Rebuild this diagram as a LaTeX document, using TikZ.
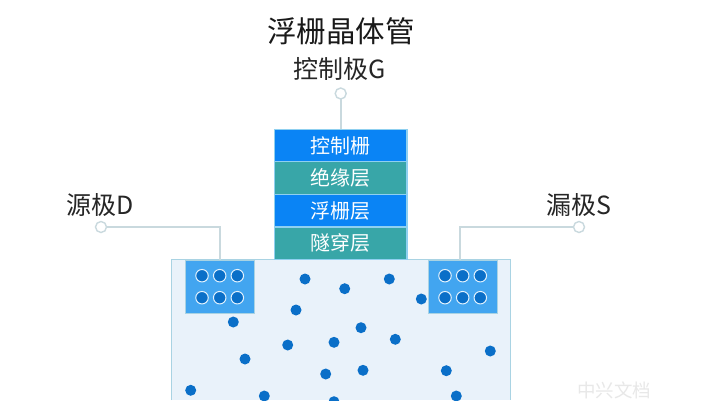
\documentclass[tikz,border=0pt]{standalone}
\usepackage{fontspec}
\setmainfont{Liberation Sans}
\newfontfamily\cjk{Noto Sans CJK SC}
\definecolor{gatecol}{HTML}{0A84F5}
\definecolor{tealcol}{HTML}{38A6A8}
\definecolor{edgecol}{HTML}{8FD0F0}
\definecolor{subfill}{HTML}{E9F2FA}
\definecolor{subedge}{HTML}{A9D3E3}
\definecolor{wellcol}{HTML}{42A5F0}
\definecolor{dotcol}{HTML}{0A6FC8}
\definecolor{leadcol}{HTML}{C9D9DE}
\tikzset{
  x=1pt,y=-1pt,
  every node/.style={font=\cjk,inner sep=0pt,outer sep=0pt},
  layerbox/.style={draw=edgecol,line width=1.3pt,minimum width=132.7pt,minimum height=32.6pt,text=white,font=\cjk\fontsize{20}{20}\selectfont},
  bluelayer/.style={layerbox,fill=gatecol},
  teallayer/.style={layerbox,fill=tealcol},
  wellbox/.style={draw=subedge,line width=1pt,fill=wellcol,minimum width=69pt,minimum height=53.5pt,anchor=north west},
  carrier/.style={circle,fill=dotcol,minimum size=11pt},
  hole/.style={circle,fill=dotcol,draw=white!85!wellcol,line width=1pt,minimum size=12.5pt},
  terminal/.style={circle,draw=leadcol,fill=white,line width=1.4pt,minimum size=11pt},
  leader/.style={draw=leadcol,line width=1.6pt},
  labeltext/.style={text=black!85,font=\cjk\fontsize{25}{25}\selectfont},
}
\begin{document}
\begin{tikzpicture}
\useasboundingbox (0,0) rectangle (719,400);
\fill[white] (0,0) rectangle (719,400);
% substrate
\path[fill=subfill] (171.7,259.7) rectangle (510.3,400);
\draw[subedge,line width=1.4pt] (171.7,400) -- (171.7,259.7) -- (510.3,259.7) -- (510.3,400);
% wells
\node[wellbox] (wl) at (185.7,260) {};
\node[wellbox] (wr) at (428.7,260) {};
\foreach \n/\x/\y in {a/202/275.7,b/219.7/275.7,c/237.3/275.7,d/202/297.7,e/219.7/297.7,f/237.3/297.7,
  g/445/275.7,h/462.7/275.7,i/480.3/275.7,j/445/297.7,k/462.7/297.7,l/480.3/297.7}
  \node[hole] (h\n) at (\x,\y) {};
% carriers
\begin{scope}
\clip (0,0) rectangle (719,400);
\foreach \x/\y [count=\i] in {305/279,344.7/288.7,389.3/279,421.3/299,296/310,233.3/322,361/327.7,395.3/339.3,334/342.3,287.7/345,490.3/351,245/359,325.7/374,363/370.3,446.3/370.7,190.7/390.3,264.3/396,334/401.7,456.3/396}
  \node[carrier] (c\i) at (\x,\y) {};
\end{scope}
% gate stack
\node[bluelayer] (l1) at (340.7,145.6) {控制栅};
\node[teallayer] (l2) at (340.7,178.1) {绝缘层};
\node[bluelayer] (l3) at (340.7,210.7) {浮栅层};
\node[teallayer] (l4) at (340.7,243.3) {隧穿层};
% terminals and leaders
\node[terminal] (tg) at (340.7,93.5) {};
\node[terminal] (ts) at (101,227) {};
\node[terminal] (td) at (579,227) {};
\draw[leader] (tg) -- (l1);
\draw[leader] (ts) -- (220,227) -- (wl.north -| 220,227);
\draw[leader] (td) -- (460,227) -- (wr.north -| 460,227);
% text
\node[text=black!90,font=\cjk\fontsize{29.5}{30}\selectfont] (title) at (341,31) {浮栅晶体管};
\node[labeltext] (lg) at (340,69) {控制极G};
\node[labeltext] (ld) at (100.5,205) {源极D};
\node[labeltext] (lr) at (579,205) {漏极S};
\node[text=black!9,font=\cjk\fontsize{18.5}{19}\selectfont] (wm) at (614,390) {中兴文档};
\end{tikzpicture}
\end{document}
